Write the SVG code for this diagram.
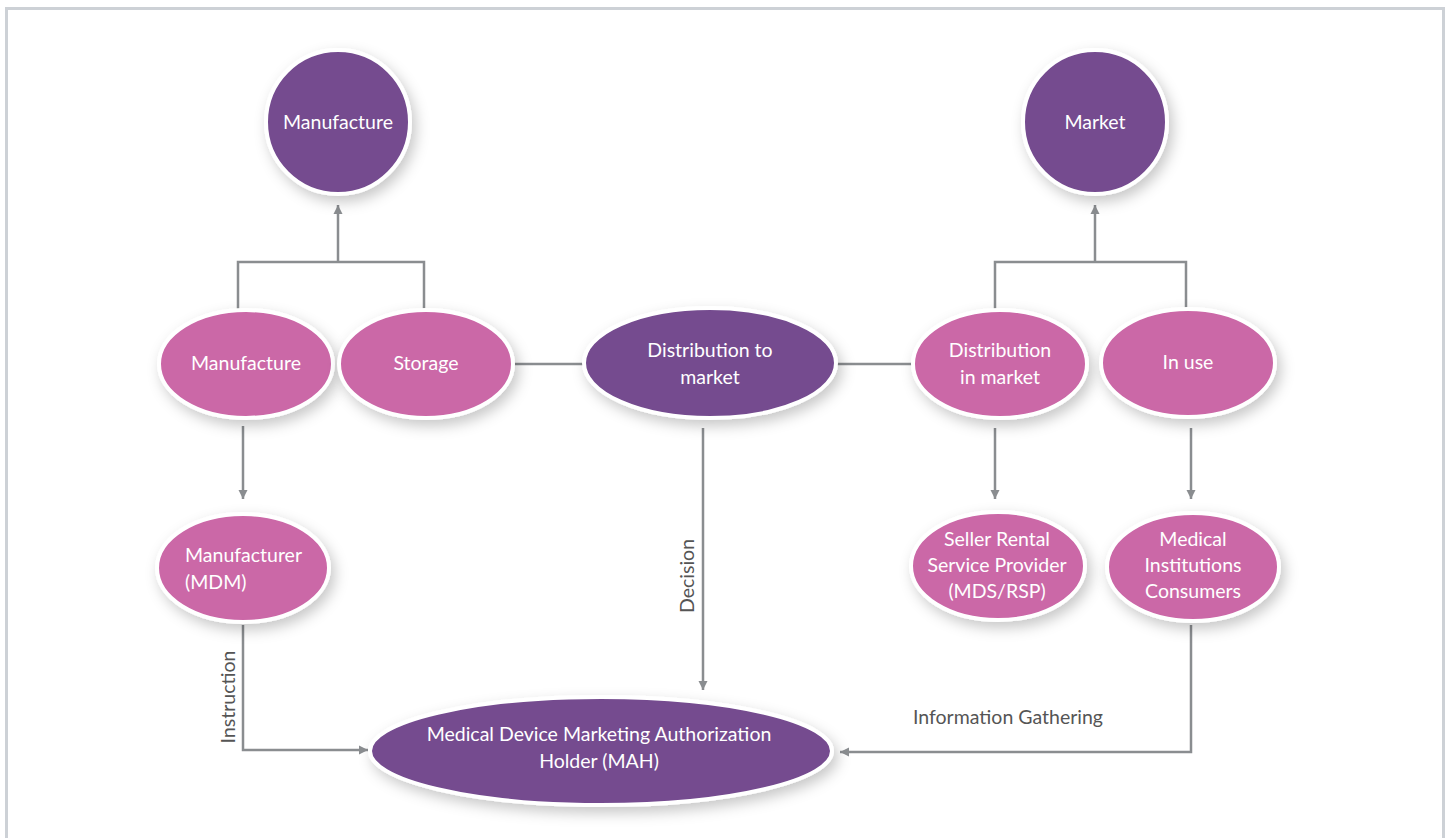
<svg xmlns="http://www.w3.org/2000/svg" width="1450" height="838" viewBox="0 0 1450 838">
<style>
.purple{fill:#744b8f;stroke:#fff;stroke-width:4;filter:url(#sh)}
.pink{fill:#cb67a7;stroke:#fff;stroke-width:4;filter:url(#sh)}
.nt{font-family:Lato,"Open Sans","Liberation Sans",sans-serif;font-size:19.5px;fill:#fff;text-anchor:middle}
.lbl{font-family:Lato,"Open Sans","Liberation Sans",sans-serif;font-size:19.5px;fill:#555;text-anchor:middle}
.cn{fill:none;stroke:#8a8d90;stroke-width:2.5}
</style>
<defs>
<filter id="sh" x="-30%" y="-30%" width="160%" height="170%">
<feDropShadow dx="4" dy="6" stdDeviation="7" flood-color="#000" flood-opacity="0.22"/>
</filter>
<marker id="ah" viewBox="0 0 10 10" refX="10" refY="5" markerWidth="9" markerHeight="12" markerUnits="userSpaceOnUse" orient="auto">
<path d="M0,0 L10,5 L0,10 Z" fill="#8a8d90"/>
</marker>
</defs>
<rect x="0" y="0" width="1450" height="838" fill="#fff"/>
<rect x="6.5" y="8.5" width="1437" height="850" fill="none" stroke="#cdd1d6" stroke-width="3"/>

<g id="connectors">
<path class="cn" d="M238,310 V262 H424 V310"/>
<path class="cn" d="M338,262 V205" marker-end="url(#ah)"/>
<path class="cn" d="M995,310 V262 H1186 V310"/>
<path class="cn" d="M1095,262 V205" marker-end="url(#ah)"/>
<path class="cn" d="M513,364 H585"/>
<path class="cn" d="M837,364 H912"/>
<path class="cn" d="M243,426 V499" marker-end="url(#ah)"/>
<path class="cn" d="M995,428 V499" marker-end="url(#ah)"/>
<path class="cn" d="M1191,428 V499" marker-end="url(#ah)"/>
<path class="cn" d="M703,428 V690" marker-end="url(#ah)"/>
<path class="cn" d="M243,625 V750 H368" marker-end="url(#ah)"/>
<path class="cn" d="M1191,625 V752 H840" marker-end="url(#ah)"/>
<text class="lbl" transform="translate(694,576) rotate(-90)">Decision</text>
<text class="lbl" transform="translate(235,697) rotate(-90)">Instruction</text>
<text class="lbl" x="1008" y="724">Information Gathering</text>
</g>

<g id="n-manufacture-top">
<circle class="purple" cx="338" cy="122" r="72"/>
<text class="nt" x="338" y="129">Manufacture</text>
</g>
<g id="n-market">
<circle class="purple" cx="1095" cy="122" r="72"/>
<text class="nt" x="1095" y="129">Market</text>
</g>
<g id="n-manufacture">
<ellipse class="pink" cx="246" cy="364" rx="87" ry="54"/>
<text class="nt" x="246" y="370">Manufacture</text>
</g>
<g id="n-storage">
<ellipse class="pink" cx="426" cy="364" rx="87" ry="54"/>
<text class="nt" x="426" y="370">Storage</text>
</g>
<g id="n-distribution-to-market">
<ellipse class="purple" cx="710" cy="363" rx="126" ry="55"/>
<text class="nt" x="710" y="357">Distribution to</text>
<text class="nt" x="710" y="384">market</text>
</g>
<g id="n-distribution-in-market">
<ellipse class="pink" cx="1000" cy="364" rx="87" ry="54"/>
<text class="nt" x="1000" y="357">Distribution</text>
<text class="nt" x="1000" y="384">in market</text>
</g>
<g id="n-in-use">
<ellipse class="pink" cx="1188" cy="363" rx="87" ry="54"/>
<text class="nt" x="1188" y="369">In use</text>
</g>
<g id="n-manufacturer">
<ellipse class="pink" cx="243" cy="568" rx="86" ry="54"/>
<text class="nt" x="185" y="562" style="text-anchor:start">Manufacturer</text>
<text class="nt" x="185" y="589" style="text-anchor:start">(MDM)</text>
</g>
<g id="n-seller">
<ellipse class="pink" cx="998" cy="566" rx="87" ry="54"/>
<text class="nt" x="997" y="546">Seller Rental</text>
<text class="nt" x="997" y="572">Service Provider</text>
<text class="nt" x="997" y="598">(MDS/RSP)</text>
</g>
<g id="n-medical">
<ellipse class="pink" cx="1193" cy="567" rx="86" ry="54"/>
<text class="nt" x="1193" y="546">Medical</text>
<text class="nt" x="1193" y="572">Institutions</text>
<text class="nt" x="1193" y="598">Consumers</text>
</g>
<g id="n-mah">
<ellipse class="purple" cx="601" cy="751" rx="231" ry="54"/>
<text class="nt" x="599" y="741">Medical Device Marketing Authorization</text>
<text class="nt" x="599" y="768">Holder (MAH)</text>
</g>
</svg>
